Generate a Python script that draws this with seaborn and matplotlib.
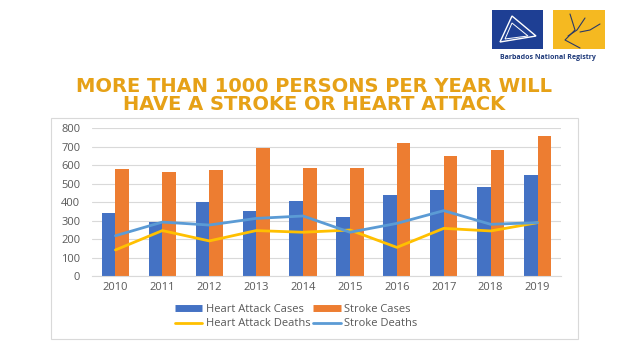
import matplotlib
matplotlib.use("Agg")
import matplotlib.pyplot as plt
import seaborn as sns
import pandas as pd
from matplotlib.lines import Line2D
from matplotlib.patches import Rectangle, Polygon

years = ["2010", "2011", "2012", "2013", "2014", "2015", "2016", "2017", "2018", "2019"]
heart_attack_cases = [343, 292, 402, 350, 408, 321, 439, 466, 482, 545]
stroke_cases = [580, 562, 576, 693, 583, 587, 720, 648, 681, 757]
heart_attack_deaths = [141, 246, 190, 246, 237, 249, 155, 258, 244, 289]
stroke_deaths = [218, 292, 276, 312, 325, 237, 285, 354, 280, 289]
y_ticks = [0, 100, 200, 300, 400, 500, 600, 700, 800]

C_HAC = "#4472C4"
C_SC = "#ED7D31"
C_HAD = "#FFC000"
C_SD = "#5B9BD5"
TXT = "#595959"

sns.set_theme(style="white")
plt.rcParams["font.family"] = ["Open Sans", "DejaVu Sans"]

W, H = 628, 353
fig = plt.figure(figsize=(W / 100, H / 100), dpi=100)
fig.patch.set_facecolor("white")

# chart box
fig.add_artist(Rectangle((50.7 / W, 1 - 339 / H), (577.7 - 50.7) / W, (339 - 118) / H,
                         transform=fig.transFigure, facecolor="white", edgecolor="#d9d9d9",
                         linewidth=0.8, zorder=0))

ax = fig.add_axes([92 / W, 1 - 276 / H, (561 - 92) / W, (276 - 128.3) / H])
ax.set_facecolor("none")

bars = pd.DataFrame({
    "Year": years * 2,
    "Value": heart_attack_cases + stroke_cases,
    "Series": ["Heart Attack Cases"] * len(years) + ["Stroke Cases"] * len(years),
})
sns.barplot(data=bars, x="Year", y="Value", hue="Series", order=years,
            palette=[C_HAC, C_SC], width=0.58, ax=ax, legend=False,
            saturation=1, linewidth=0, zorder=2)

lines = pd.DataFrame({
    "Year": years * 2,
    "Value": heart_attack_deaths + stroke_deaths,
    "Series": ["Heart Attack Deaths"] * len(years) + ["Stroke Deaths"] * len(years),
})
sns.pointplot(data=lines, x="Year", y="Value", hue="Series", order=years,
              palette=[C_HAD, C_SD], markers="", linewidth=2.0, ax=ax,
              legend=False, errorbar=None)
for ln in ax.lines:
    ln.set_zorder(3)
    ln.set_solid_joinstyle("round")

ax.set_ylim(0, 800)
ax.set_xlim(-0.5, 9.5)
ax.set_yticks(y_ticks)
ax.set_yticklabels([str(v) for v in y_ticks])
ax.yaxis.grid(True, color="#d9d9d9", linewidth=0.8, zorder=0)
ax.set_axisbelow(True)
for s in ["top", "right", "left"]:
    ax.spines[s].set_visible(False)
ax.spines["bottom"].set_color("#d9d9d9")
ax.spines["bottom"].set_linewidth(0.8)
ax.set_xlabel("")
ax.set_ylabel("")
ax.tick_params(axis="both", length=0, labelsize=8, labelcolor=TXT)
ax.tick_params(axis="y", pad=8.5)
ax.tick_params(axis="x", pad=4.5)

handles = [
    Line2D([0], [0], color=C_HAC, lw=5, solid_capstyle="butt"),
    Line2D([0], [0], color=C_HAD, lw=2),
    Line2D([0], [0], color=C_SC, lw=5, solid_capstyle="butt"),
    Line2D([0], [0], color=C_SD, lw=2),
]
labels = ["Heart Attack Cases", "Heart Attack Deaths", "Stroke Cases", "Stroke Deaths"]
fig.legend(handles, labels, ncol=2, loc="center", bbox_to_anchor=(296 / W, 1 - 316.5 / H),
           frameon=False, fontsize=8, labelcolor=TXT, handlelength=2.5,
           handletextpad=0.3, columnspacing=0.25, labelspacing=0.35)

# title
title_color = "#E6A117"
fig.text(314 / W, 1 - 95.5 / H,
         "MORE THAN 1000 PERSONS PER YEAR WILL\nHAVE A STROKE OR HEART ATTACK",
         ha="center", va="center", multialignment="center", linespacing=0.88,
         fontsize=14, fontweight="bold", color=title_color, family=["DejaVu Sans"])

# logo
fig.add_artist(Rectangle((491.7 / W, 1 - 48.7 / H), 51 / W, 38.7 / H, transform=fig.transFigure,
                         facecolor="#1E3F94", edgecolor="none"))
fig.add_artist(Rectangle((552.7 / W, 1 - 48.7 / H), 52.3 / W, 38.7 / H, transform=fig.transFigure,
                         facecolor="#F5B921", edgecolor="none"))
tri = Polygon([(500 / W, 1 - 42 / H), (512 / W, 1 - 16 / H), (536 / W, 1 - 36 / H)], closed=True,
              transform=fig.transFigure, fill=False, edgecolor="white", linewidth=1.0)
fig.add_artist(tri)
tri2 = Polygon([(505 / W, 1 - 39 / H), (512 / W, 1 - 23 / H), (528 / W, 1 - 36 / H)], closed=True,
               transform=fig.transFigure, fill=False, edgecolor="white", linewidth=0.7)
fig.add_artist(tri2)
for xs, ys in [((570, 575, 565, 580), (14, 30, 40, 48)), ((585, 577, 568), (18, 30, 36)),
               ((600, 590, 580), (24, 30, 32))]:
    fig.add_artist(Line2D([x / W for x in xs], [1 - y / H for y in ys], transform=fig.transFigure,
                          color="#2B3A67", linewidth=0.8))
fig.text(548 / W, 1 - 57.5 / H, "Barbados National Registry", ha="center", va="center",
         fontsize=5, fontweight="bold", color="#1F3A7A")

fig.savefig("out.png", dpi=100, facecolor="white")
